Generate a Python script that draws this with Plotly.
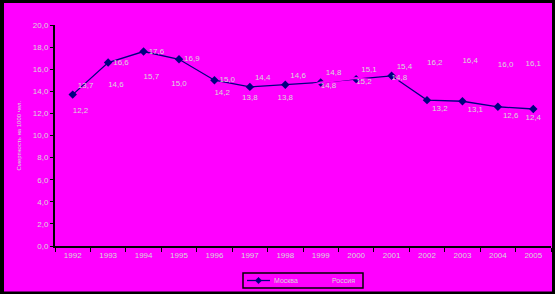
import plotly.graph_objects as go

years = ["1992", "1993", "1994", "1995", "1996", "1997", "1998",
         "1999", "2000", "2001", "2002", "2003", "2004", "2005"]
moscow = [13.7, 16.6, 17.6, 16.9, 15.0, 14.4, 14.6, 14.8, 15.1, 15.4, 13.2, 13.1, 12.6, 12.4]
russia = [12.2, 14.6, 15.7, 15.0, 14.2, 13.8, 13.8, 14.8, 15.2, 14.8, 16.2, 16.4, 16.0, 16.1]
y_ticks = [0, 2, 4, 6, 8, 10, 12, 14, 16, 18, 20]
y_tick_text = ["0,0", "2,0", "4,0", "6,0", "8,0", "10,0", "12,0", "14,0", "16,0", "18,0", "20,0"]
series_names = ["Москва", "Россия"]
y_title = "Смертность на 1000 чел."

def fmt(v):
    return f"{v:.1f}".replace(".", ",")

MAG = "#FF00FF"
NAVY = "#000080"
LBL = "#D8D8D8"
FONT = "Liberation Sans"

pos_m = ["top right", "middle right", "middle right", "middle right", "middle right",
         "top right", "top right", "top right", "top right", "top right",
         "bottom right", "bottom right", "bottom right", "bottom center"]
pos_r = ["middle right", "middle right", "bottom right", "bottom center", "bottom right",
         "bottom center", "bottom center", "bottom right", "bottom right", "top right",
         "top right", "top right", "top right", "top center"]

fig = go.Figure()
fig.add_trace(go.Scatter(
    x=years, y=moscow, name=series_names[0], mode="lines+markers+text",
    line=dict(color=NAVY, width=1.3),
    marker=dict(symbol="diamond", size=6.5, color=NAVY),
    text=[fmt(v) for v in moscow], textposition=pos_m,
    textfont=dict(family=FONT, size=8, color=LBL),
))
fig.add_trace(go.Scatter(
    x=years, y=russia, name=series_names[1], mode="lines+text",
    line=dict(color=MAG, width=2),
    text=[fmt(v) for v in russia], textposition=pos_r,
    textfont=dict(family=FONT, size=8, color=LBL),
))

L, R, T, B = 55, 4, 25, 48
pw, ph = 555 - L - R, 294 - T - B

def px(x):
    return (x - L) / pw

def py(y):
    return (T + ph - y) / ph

# background frame
fig.add_shape(type="rect", xref="paper", yref="paper", layer="below",
              x0=px(4), x1=px(552), y0=py(291.5), y1=py(3),
              fillcolor=MAG, line=dict(width=0))

# y-axis title
fig.add_annotation(xref="paper", yref="paper", x=px(13), y=0.5,
                   text=y_title, textangle=-90, showarrow=False,
                   font=dict(family=FONT, size=6, color=LBL))

# legend box (drawn manually for compact size)
ly = 280.5
fig.add_shape(type="rect", xref="paper", yref="paper",
              x0=px(243), x1=px(363), y0=py(288), y1=py(273),
              fillcolor=MAG, line=dict(color="black", width=1.5))
fig.add_shape(type="line", xref="paper", yref="paper",
              x0=px(247), x1=px(270), y0=py(ly), y1=py(ly),
              line=dict(color=NAVY, width=1.3))
d = 3.2
fig.add_shape(type="path", xref="paper", yref="paper",
              path=(f"M {px(258.5)} {py(ly - d)} L {px(258.5 + d)} {py(ly)} "
                    f"L {px(258.5)} {py(ly + d)} L {px(258.5 - d)} {py(ly)} Z"),
              fillcolor=NAVY, line=dict(color=NAVY, width=0.5))
fig.add_annotation(xref="paper", yref="paper", x=px(272), y=py(ly),
                   xanchor="left", yanchor="middle", text=series_names[0],
                   showarrow=False, font=dict(family=FONT, size=7, color=LBL))
fig.add_annotation(xref="paper", yref="paper", x=px(330), y=py(ly),
                   xanchor="left", yanchor="middle", text=series_names[1],
                   showarrow=False, font=dict(family=FONT, size=7, color=LBL))

fig.update_layout(
    width=555, height=294,
    margin=dict(l=L, r=R, t=T, b=B, autoexpand=False),
    paper_bgcolor="black", plot_bgcolor=MAG,
    font=dict(family=FONT, size=8, color=LBL),
    showlegend=False,
    xaxis=dict(type="category", showgrid=False, zeroline=False,
               showline=True, linecolor="black", linewidth=2,
               ticks="outside", ticklen=4, tickcolor="black", tickwidth=1,
               tickson="boundaries", range=[-0.5, 13.5],
               tickfont=dict(family=FONT, size=8, color=LBL)),
    yaxis=dict(range=[0, 20], tickvals=y_ticks, ticktext=y_tick_text,
               showgrid=False, zeroline=False,
               showline=True, linecolor="black", linewidth=2,
               ticks="outside", ticklen=3, tickcolor="black", tickwidth=1,
               tickfont=dict(family=FONT, size=8, color=LBL)),
)

fig.write_html("out.html")
